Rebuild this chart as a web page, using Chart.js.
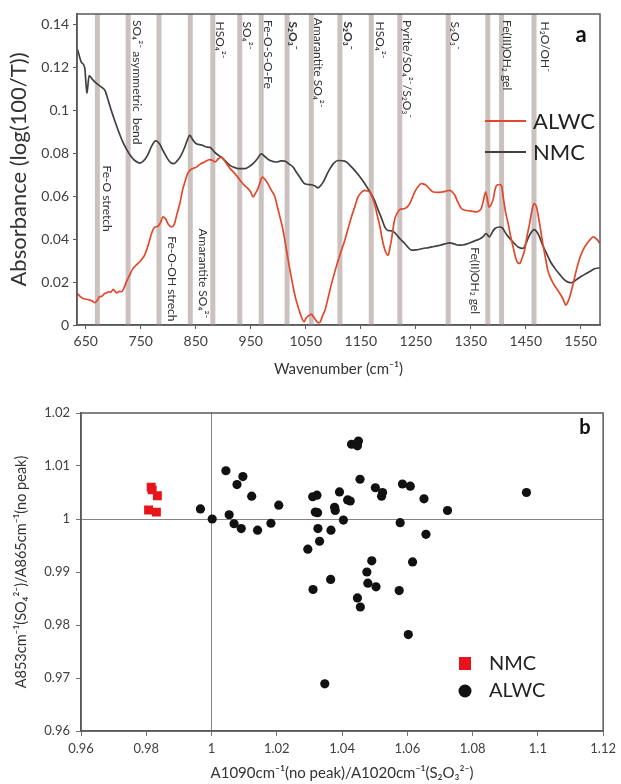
<!DOCTYPE html>
<html><head><meta charset="utf-8">
<script src="https://cdn.jsdelivr.net/npm/chart.js@4.4.1/dist/chart.umd.min.js"></script>
<style>
html,body{margin:0;padding:0;background:#fff;width:621px;height:784px;overflow:hidden}
#c1{position:absolute;left:0;top:0}
#c2{position:absolute;left:0;top:390px}
</style></head><body>
<canvas id="c1" width="621" height="390"></canvas>
<canvas id="c2" width="621" height="394"></canvas>
<script>
// ---------- Panel a data ----------
const seriesNames = ['ALWC', 'NMC'];
const alwcWave = [635,640,645,651,657,662,666,671,675,680,684,688,691,695,700,703,706,711,715,719,724,730,736,742,748,753,757,762,766,770,775,781,786,790,795,800,806,811,816,821,826,830,835,839,845,851,858,866,875,880,885,891,897,901,906,913,921,927,933,939,945,950,954,958,963,967,971,976,981,987,994,998,1003,1008,1012,1018,1022,1027,1031,1036,1041,1047,1050,1053,1057,1060,1064,1068,1072,1075,1080,1085,1090,1097,1103,1109,1115,1121,1127,1133,1139,1145,1151,1157,1162,1166,1171,1175,1180,1185,1189,1194,1198,1200,1203,1206,1209,1212,1216,1221,1230,1235,1239,1244,1248,1254,1260,1265,1269,1275,1282,1290,1297,1305,1312,1317,1321,1327,1333,1340,1348,1354,1360,1365,1369,1373,1377,1380,1383,1387,1391,1394,1397,1403,1406,1409,1413,1418,1422,1427,1432,1436,1439,1443,1448,1452,1457,1461,1465,1469,1472,1476,1481,1486,1490,1495,1500,1506,1512,1518,1523,1527,1530,1536,1542,1548,1554,1560,1566,1573,1579,1585];
const alwcAbs = [0.0147,0.0132,0.0124,0.012,0.0116,0.0112,0.0104,0.0115,0.0132,0.0135,0.0147,0.015,0.0155,0.0152,0.0166,0.0158,0.015,0.0157,0.0155,0.017,0.0202,0.0235,0.0264,0.028,0.0295,0.031,0.0326,0.036,0.0395,0.043,0.0455,0.046,0.0478,0.0504,0.0495,0.047,0.0457,0.047,0.052,0.0566,0.063,0.0665,0.0705,0.0721,0.073,0.0736,0.075,0.076,0.0771,0.0768,0.076,0.0775,0.0783,0.077,0.0752,0.0728,0.0706,0.0687,0.0667,0.065,0.0636,0.062,0.0597,0.0612,0.0636,0.0665,0.069,0.0678,0.0659,0.063,0.0597,0.0555,0.0504,0.045,0.0395,0.0302,0.0245,0.0178,0.013,0.0085,0.0045,0.0015,0.003,0.0039,0.0045,0.0051,0.0038,0.0023,0.0012,0.0011,0.004,0.007,0.012,0.0194,0.025,0.0302,0.035,0.0395,0.045,0.0504,0.055,0.0597,0.0618,0.0628,0.0625,0.062,0.0595,0.0566,0.051,0.0457,0.04,0.0349,0.0328,0.0326,0.036,0.04,0.0455,0.0495,0.052,0.0538,0.0543,0.0552,0.0566,0.0595,0.062,0.0645,0.0659,0.0657,0.0651,0.0635,0.062,0.0618,0.062,0.0624,0.0628,0.0618,0.0605,0.057,0.0543,0.0535,0.0532,0.053,0.0527,0.0532,0.0543,0.058,0.062,0.059,0.055,0.056,0.0589,0.063,0.0651,0.0655,0.0648,0.0597,0.053,0.0473,0.042,0.0364,0.031,0.0289,0.0287,0.031,0.0349,0.041,0.0473,0.053,0.0566,0.0555,0.052,0.046,0.038,0.031,0.0256,0.022,0.0194,0.017,0.0147,0.012,0.0093,0.011,0.0132,0.019,0.0256,0.031,0.0349,0.0375,0.0395,0.0411,0.04,0.038];
const nmcWave = [635,642,648,652,656,662,670,678,685,691,697,703,710,717,724,731,739,748,755,762,770,777,784,791,798,805,810,816,822,830,835,839,845,851,860,869,876,884,892,900,912,920,927,939,948,954,962,969,977,985,997,1005,1012,1020,1027,1033,1039,1048,1060,1067,1072,1077,1082,1088,1094,1101,1109,1121,1129,1136,1144,1151,1157,1163,1169,1175,1181,1188,1194,1200,1206,1212,1218,1224,1230,1236,1242,1250,1257,1265,1272,1283,1294,1303,1312,1320,1327,1335,1342,1350,1360,1367,1372,1378,1384,1389,1394,1403,1408,1412,1418,1424,1430,1436,1445,1450,1454,1460,1465,1470,1475,1481,1488,1495,1503,1512,1521,1527,1533,1539,1545,1552,1560,1568,1575,1585];
const nmcAbs = [0.1285,0.1225,0.12,0.108,0.1163,0.1145,0.1125,0.111,0.1093,0.1045,0.0995,0.095,0.09,0.0855,0.082,0.079,0.0767,0.0755,0.0765,0.079,0.0835,0.0858,0.0845,0.081,0.0778,0.0755,0.0752,0.0765,0.0785,0.083,0.0865,0.0884,0.0862,0.0845,0.084,0.083,0.0828,0.0806,0.079,0.0775,0.0744,0.0735,0.0729,0.0729,0.074,0.0752,0.0775,0.0798,0.0782,0.0767,0.076,0.0765,0.0764,0.075,0.0736,0.0712,0.069,0.0659,0.0654,0.0648,0.0639,0.065,0.0667,0.07,0.0729,0.0755,0.0767,0.0764,0.0748,0.0729,0.0705,0.0682,0.066,0.0636,0.061,0.0581,0.054,0.0496,0.0455,0.044,0.0439,0.043,0.0411,0.0395,0.038,0.0362,0.0349,0.035,0.0353,0.0358,0.036,0.0366,0.0372,0.0378,0.0383,0.0378,0.0372,0.0373,0.0377,0.0385,0.0395,0.0402,0.0411,0.0426,0.0411,0.0432,0.045,0.0457,0.0452,0.0434,0.0412,0.0395,0.0378,0.0364,0.0357,0.0378,0.0403,0.0432,0.0445,0.0435,0.0411,0.037,0.0333,0.0295,0.0264,0.0235,0.0209,0.02,0.0197,0.0205,0.0217,0.0228,0.024,0.0252,0.0262,0.0267];
const xTicksA = [650,750,850,950,1050,1150,1250,1350,1450,1550];
const yTicksA = [0,0.02,0.04,0.06,0.08,0.1,0.12,0.14];
// assignment bands (cm-1)
const bandWaves = [671,727,783,840,881,930,969,1016,1060,1112,1169,1221,1309,1381,1406,1465];
// band annotations: wavenumber anchor, absorbance anchor (text start), text, bold
const annWave = [742,894,942,981,1027,1072,1127,1184,1233,1321,1415,1484,688,806,863,1357];
const annAbs  = [0.1422,0.1415,0.1415,0.1422,0.1415,0.1432,0.1415,0.1415,0.1422,0.1415,0.1422,0.1415,0.0744,0.0414,0.045,0.0363];
const annText = ['SO₄²⁻ asymmetric  bend','HSO₄²⁻','SO₄²⁻','Fe-O-S-O-Fe','S₂O₃⁻','Amarantite SO₄²⁻','S₂O₃⁻','HSO₄²⁻','Pyrite/SO₄²⁻/S₂O₃⁻','S₂O₃⁻','Fe(III)OH₂ gel','H₂O/OH⁻','Fe-O stretch','Fe-O-OH strech','Amarantite SO₄²⁻','Fe(II)OH₂ gel'];
const annBold = [false,false,false,false,true,false,true,false,false,false,false,false,false,false,false,false];

// ---------- Panel b data ----------
const nmcRatioX = [0.9815,0.9818,0.9834,0.9807,0.9831];
const nmcRatioY = [1.0060,1.0055,1.0044,1.0017,1.0013];
const alwcRatioX = [0.9966,1.0002,1.0044,1.0078,1.0096,1.0123,1.0206,1.0054,1.0069,1.0091,1.0141,1.0182,1.0295,1.0310,1.0323,1.0318,1.0325,1.0326,1.0331,1.0366,1.0377,1.0379,1.0392,1.0404,1.0417,1.0425,1.0429,1.0450,1.0447,1.0455,1.0502,1.0524,1.0521,1.0585,1.0609,1.0651,1.0723,1.0965,1.0578,1.0657,1.0491,1.0616,1.0476,1.0365,1.0479,1.0504,1.0311,1.0575,1.0447,1.0456,1.0603,1.0347];
const alwcRatioY = [1.0019,1.0000,1.0091,1.0065,1.0080,1.0043,1.0026,1.0008,0.9991,0.9982,0.9979,0.9992,0.9943,1.0042,1.0045,1.0013,1.0012,0.9982,0.9958,0.9979,1.0022,1.0016,1.0051,0.9998,1.0036,1.0034,1.0141,1.0147,1.0138,1.0075,1.0059,1.0050,1.0043,1.0066,1.0062,1.0038,1.0016,1.0050,0.9993,0.9971,0.9921,0.9919,0.9900,0.9886,0.9879,0.9872,0.9867,0.9865,0.9851,0.9834,0.9782,0.9689];
const xTicksB = [0.96,0.98,1,1.02,1.04,1.06,1.08,1.1,1.12];
const yTicksB = [0.96,0.97,0.98,0.99,1,1.01,1.02];

// ---------- styles ----------
const FONT = 'Lato, "Open Sans", "DejaVu Sans", sans-serif';
const RED = '#e2482c', GREY = '#404040';
const TXT = '#333333';

const boxPlugin = {
  id: 'box',
  afterDatasetsDraw(chart) {
    const {ctx, chartArea: a} = chart;
    ctx.save();
    ctx.strokeStyle = '#5a5a5a'; ctx.lineWidth = 1.5;
    ctx.strokeRect(a.left, a.top, a.right - a.left, a.bottom - a.top);
    ctx.restore();
  }
};

const bandPlugin = {
  id: 'bands',
  beforeDatasetsDraw(chart) {
    const {ctx, chartArea: a, scales: {x, y}} = chart;
    ctx.save();
    ctx.fillStyle = '#cbc1bf';
    bandWaves.forEach(w => {
      const px = x.getPixelForValue(w);
      ctx.fillRect(px - 2.5, a.top, 5, a.bottom - a.top);
    });
    ctx.fillStyle = '#333';
    annWave.forEach((w, i) => {
      const px = x.getPixelForValue(w), py = y.getPixelForValue(annAbs[i]);
      ctx.save();
      ctx.translate(px, py);
      ctx.rotate(Math.PI / 2);
      ctx.font = (annBold[i] ? 'bold ' : '') + '12px ' + FONT;
      ctx.textAlign = 'left'; ctx.textBaseline = 'middle';
      ctx.fillText(annText[i], 0, 0);
      ctx.restore();
    });
    ctx.restore();
  }
};

const legendA = {
  id: 'legendA',
  afterDraw(chart) {
    const {ctx} = chart;
    ctx.save();
    const rows = [[seriesNames[0], RED, 121], [seriesNames[1], GREY, 152]];
    rows.forEach(([t, c, yy]) => {
      ctx.strokeStyle = c; ctx.lineWidth = 2;
      ctx.beginPath(); ctx.moveTo(485, yy); ctx.lineTo(526, yy); ctx.stroke();
      ctx.fillStyle = '#222'; ctx.font = '22px ' + FONT;
      ctx.textAlign = 'left'; ctx.textBaseline = 'middle';
      ctx.fillText(t, 533, yy + 1);
    });
    ctx.font = 'bold 22px ' + FONT; ctx.fillStyle = '#111'; ctx.textAlign = 'center';
    ctx.fillText('a', 581, 35);
    ctx.restore();
  }
};

const legendB = {
  id: 'legendB',
  afterDraw(chart) {
    const {ctx} = chart;
    ctx.save();
    ctx.fillStyle = '#e8141b';
    ctx.fillRect(459, 267, 12, 13);
    ctx.fillStyle = '#111';
    ctx.beginPath(); ctx.arc(465, 301, 6.5, 0, Math.PI * 2); ctx.fill();
    ctx.fillStyle = '#222'; ctx.font = '20px ' + FONT;
    ctx.textAlign = 'left'; ctx.textBaseline = 'middle';
    ctx.fillText('NMC', 489, 274);
    ctx.fillText('ALWC', 489, 301);
    ctx.font = 'bold 20px ' + FONT; ctx.fillStyle = '#111'; ctx.textAlign = 'center';
    ctx.fillText('b', 585, 38);
    ctx.restore();
  }
};

const fmt = v => String(+(+v).toFixed(3));

new Chart(document.getElementById('c1'), {
  type: 'line',
  data: {
    datasets: [
      {label: seriesNames[0], data: alwcWave.map((w, i) => ({x: w, y: alwcAbs[i]})), borderColor: RED, borderWidth: 1.7, pointRadius: 0, cubicInterpolationMode: 'monotone', fill: false},
      {label: seriesNames[1], data: nmcWave.map((w, i) => ({x: w, y: nmcAbs[i]})), borderColor: GREY, borderWidth: 1.7, pointRadius: 0, cubicInterpolationMode: 'monotone', fill: false}
    ]
  },
  options: {
    responsive: false, animation: false, devicePixelRatio: 1,
    layout: {padding: {top: 14, right: 21, left: 0, bottom: 0}},
    plugins: {legend: {display: false}, tooltip: {enabled: false}},
    scales: {
      x: {
        type: 'linear', min: 634, max: 1585,
        afterBuildTicks: s => { s.ticks = xTicksA.map(v => ({value: v})); },
        afterFit: s => { s.height = 65; },
        ticks: {font: {family: FONT, size: 14}, color: '#404040', padding: 4, maxRotation: 0, autoSkip: false, callback: v => String(v)},
        grid: {drawOnChartArea: false, tickLength: 4, color: '#5a5a5a', tickColor: '#5a5a5a'},
        border: {color: '#5a5a5a', width: 1.5},
        title: {display: true, text: 'Wavenumber (cm⁻¹)', font: {family: FONT, size: 15}, color: TXT, padding: {top: 0, bottom: 12}}
      },
      y: {
        min: 0, max: 0.145,
        afterBuildTicks: s => { s.ticks = yTicksA.map(v => ({value: v})); },
        afterFit: s => { s.width = 77; },
        ticks: {font: {family: FONT, size: 14}, color: '#404040', padding: 4, callback: fmt},
        grid: {drawOnChartArea: false, tickLength: 4, color: '#5a5a5a', tickColor: '#5a5a5a'},
        border: {color: '#5a5a5a', width: 1.5},
        title: {display: true, text: 'Absorbance (log(100/T))', font: {family: FONT, size: 22}, color: TXT, padding: {top: 6, bottom: 0}}
      }
    }
  },
  plugins: [bandPlugin, boxPlugin, legendA]
});

const oneLine = c => (c.tick && Math.abs(c.tick.value - 1) < 1e-9) ? '#8a8080' : 'rgba(0,0,0,0)';

new Chart(document.getElementById('c2'), {
  type: 'scatter',
  data: {
    datasets: [
      {label: 'NMC', data: nmcRatioX.map((v, i) => ({x: v, y: nmcRatioY[i]})), pointStyle: 'rect', pointRadius: 6.3, backgroundColor: '#e8141b', borderWidth: 0},
      {label: 'ALWC', data: alwcRatioX.map((v, i) => ({x: v, y: alwcRatioY[i]})), pointStyle: 'circle', pointRadius: 4.6, backgroundColor: '#111', borderWidth: 0}
    ]
  },
  options: {
    responsive: false, animation: false, devicePixelRatio: 1,
    layout: {padding: {top: 23, right: 15, left: 0, bottom: 0}},
    plugins: {legend: {display: false}, tooltip: {enabled: false}},
    scales: {
      x: {
        type: 'linear', min: 0.96, max: 1.12,
        afterBuildTicks: s => { s.ticks = xTicksB.map(v => ({value: v})); },
        afterFit: s => { s.height = 53; },
        ticks: {font: {family: FONT, size: 13}, color: '#404040', padding: 5, maxRotation: 0, autoSkip: false, callback: fmt},
        grid: {color: oneLine, tickLength: 5, tickColor: '#7a7272', lineWidth: 1},
        border: {color: '#5a5a5a', width: 1.5},
        title: {display: true, text: 'A1090cm⁻¹(no peak)/A1020cm⁻¹(S₂O₃²⁻)', font: {family: FONT, size: 15}, color: TXT, padding: {top: 0, bottom: 2}}
      },
      y: {
        min: 0.96, max: 1.02,
        afterBuildTicks: s => { s.ticks = yTicksB.map(v => ({value: v})); },
        afterFit: s => { s.width = 81; },
        ticks: {font: {family: FONT, size: 13}, color: '#404040', padding: 6, callback: fmt},
        grid: {color: oneLine, tickLength: 5, tickColor: '#7a7272', lineWidth: 1},
        border: {color: '#5a5a5a', width: 1.5},
        title: {display: true, text: 'A853cm⁻¹(SO₄²⁻)/A865cm⁻¹(no peak)', font: {family: FONT, size: 14.5}, color: TXT, padding: {top: 13, bottom: 0}}
      }
    }
  },
  plugins: [boxPlugin, legendB]
});
</script></body></html>
